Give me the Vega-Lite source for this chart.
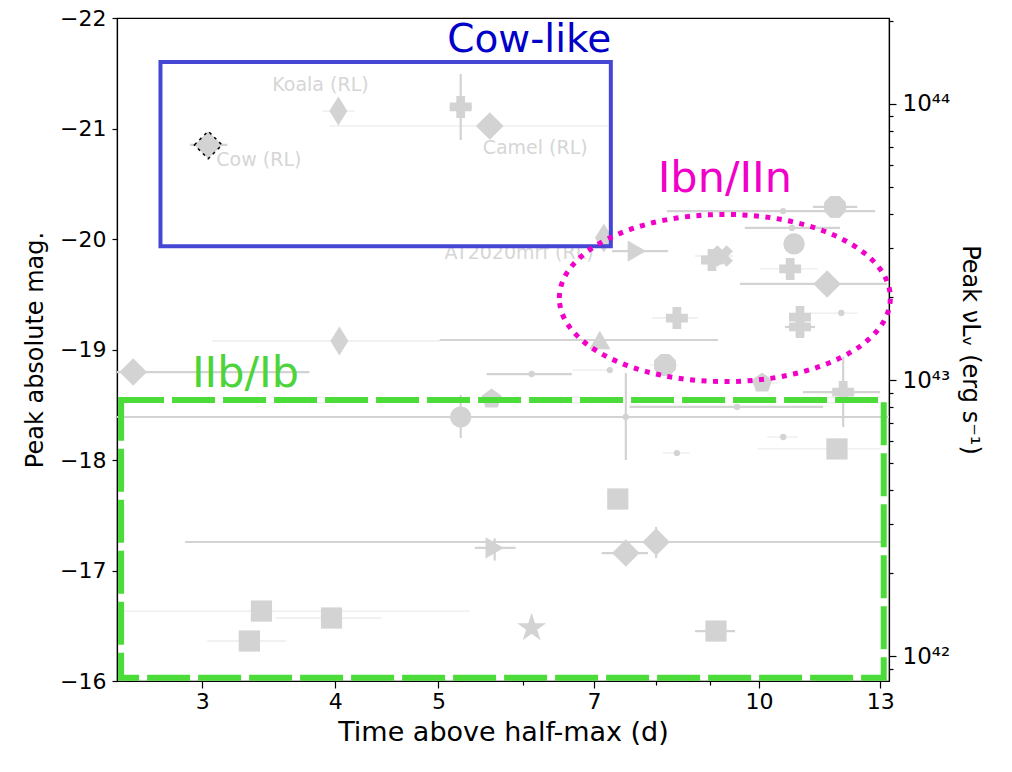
{
  "$schema": "https://vega.github.io/schema/vega-lite/v6.json",
  "width": 772,
  "height": 663,
  "autosize": {"type": "none"},
  "padding": {"left": 117, "top": 18, "right": 123, "bottom": 91},
  "background": "white",
  "datasets": {
    "pts": [
      {"src": "Cow", "m": "D", "x": 3.039, "y": -20.851, "xl": 2.922, "xh": 3.167, "xf": 0},
      {"src": "Koala", "m": "d", "x": 4.027, "y": -21.158, "xl": 3.89, "xh": 4.171, "xf": 1},
      {"m": "P", "x": 5.247, "y": -21.195, "xl": 5.123, "xh": 5.374, "xf": 0, "yl": -21.493, "yh": -20.896},
      {"src": "Camel", "m": "D", "x": 5.587, "y": -21.023, "xl": 3.951, "xh": 7.214, "xf": 1},
      {"src": "AT2020mrf", "m": "d", "x": 7.151, "y": -20.009},
      {"m": ">", "x": 7.681, "y": -19.891, "xl": 7.278, "xh": 8.218, "xf": 0},
      {"m": "P", "x": 9.035, "y": -19.81},
      {"m": "X", "x": 9.234, "y": -19.846, "xl": 8.71, "xh": 9.457, "xf": 1},
      {"m": ".", "x": 10.537, "y": -20.253, "xl": 8.196, "xh": 12.86, "xf": 0},
      {"m": "P", "x": 11.79, "y": -20.29, "xl": 11.24, "xh": 12.37, "xf": 0},
      {"m": "X", "x": 11.79, "y": -20.29},
      {"m": ".", "x": 10.74, "y": -20.1, "xl": 9.7, "xh": 11.92, "xf": 0},
      {"m": "o", "x": 10.79, "y": -19.955},
      {"m": "P", "x": 10.7, "y": -19.729, "xl": 10.03, "xh": 11.36, "xf": 1},
      {"m": "D", "x": 11.59, "y": -19.593, "xl": 9.6, "xh": 13.2, "xf": 0},
      {"m": "P", "x": 8.375, "y": -19.285, "xl": 7.935, "xh": 8.767, "xf": 1},
      {"m": "P", "x": 10.93, "y": -19.294},
      {"m": "P", "x": 10.93, "y": -19.204, "xl": 10.58, "xh": 11.29, "xf": 0},
      {"m": ".", "x": 11.95, "y": -19.33, "xl": 11.16, "xh": 12.37, "xf": 1},
      {"m": "^", "x": 7.089, "y": -19.086, "xl": 5.012, "xh": 9.155, "xf": 0},
      {"m": "P", "x": 8.163, "y": -18.86, "xl": 7.9, "xh": 8.39, "xf": 1},
      {"m": "X", "x": 8.163, "y": -18.86},
      {"m": ".", "x": 7.244, "y": -18.814, "xl": 6.69, "xh": 7.29, "xf": 1},
      {"m": ".", "x": 6.117, "y": -18.778, "xl": 5.551, "xh": 6.672, "xf": 0},
      {"m": "D", "x": 2.584, "y": -18.796, "xl": 2.4, "xh": 3.783, "xf": 0},
      {"m": "d", "x": 4.036, "y": -19.077, "xl": 3.066, "xh": 5.012, "xf": 1},
      {"m": "o", "x": 5.247, "y": -18.389, "xl": 2.4, "xh": 7.499, "xf": 0, "yl": -18.588, "yh": -18.199},
      {"m": ".", "x": 7.499, "y": -18.389, "xl": 7.499, "xh": 13.6, "xf": 0, "yl": -18.787, "yh": -18.0},
      {"m": "p", "x": 5.61, "y": -18.552},
      {"m": "p", "x": 10.07, "y": -18.697, "xl": 9.81, "xh": 10.42, "xf": 1},
      {"m": "P", "x": 12.0, "y": -18.615, "xl": 11.0, "xh": 13.0, "xf": 0, "yl": -18.932, "yh": -18.299},
      {"m": ".", "x": 9.539, "y": -18.48, "xl": 7.56, "xh": 11.49, "xf": 0},
      {"m": ".", "x": 10.54, "y": -18.208, "xl": 10.18, "xh": 10.88, "xf": 1},
      {"m": ".", "x": 8.375, "y": -18.063, "xl": 8.125, "xh": 8.61, "xf": 1},
      {"m": "s", "x": 11.84, "y": -18.1, "xl": 9.98, "xh": 13.0, "xf": 1},
      {"m": "s", "x": 7.37, "y": -17.647},
      {"m": ">", "x": 5.647, "y": -17.204, "xl": 5.41, "xh": 5.91, "xf": 0, "yl": -17.29, "yh": -17.09},
      {"m": "D", "x": 8.007, "y": -17.258, "xl": 2.891, "xh": 13.09, "xf": 0, "yl": -17.394, "yh": -17.113},
      {"m": "D", "x": 7.499, "y": -17.158, "xl": 7.118, "xh": 7.866, "xf": 0},
      {"m": "*", "x": 6.117, "y": -16.48},
      {"m": "s", "x": 9.114, "y": -16.452, "xl": 8.71, "xh": 9.497, "xf": 0},
      {"m": "s", "x": 3.41, "y": -16.633, "xl": 2.533, "xh": 5.35, "xf": 1},
      {"m": "s", "x": 3.322, "y": -16.362, "xl": 3.033, "xh": 3.598, "xf": 1},
      {"m": "s", "x": 3.968, "y": -16.57, "xl": 3.515, "xh": 4.42, "xf": 1}
    ],
    "labels": [
      {"t": "Cow (RL)", "x": 3.093, "y": -20.715},
      {"t": "Koala (RL)", "x": 3.491, "y": -21.394},
      {"t": "Camel (RL)", "x": 5.502, "y": -20.824},
      {"t": "AT2020mrf (RL)", "x": 5.067, "y": -19.873}
    ],
    "ann": [
      {"t": "Cow-like", "g": "cow", "x": 6.085, "y": -21.69},
      {"t": "Ibn/IIn", "g": "ibn", "x": 9.29, "y": -20.425},
      {"t": "IIb/Ib", "g": "iib", "x": 3.294, "y": -18.66}
    ],
    "boxes": [
      {"g": "cow", "x": 2.741, "x2": 7.26, "y": -21.602, "y2": -19.934},
      {"g": "iib", "x": 2.517, "x2": 13.1, "y": -18.543, "y2": -16.03}
    ],
    "ell": [{"g": "ibn", "x": 9.29, "y": -19.466}]
  },
  "layer": [
    {
      "layer": [
        {
          "data": {"name": "pts"},
          "transform": [{"filter": "isValid(datum.xl)"}],
          "mark": {"type": "rule", "clip": true},
          "encoding": {
            "x": {"field": "xl", "type": "quantitative", "title": "Time above half-max (d)", "scale": {"type": "log", "domain": [2.495, 13.25], "nice": false}},
            "x2": {"field": "xh"},
            "y": {"field": "y", "type": "quantitative", "title": "Peak absolute mag.", "scale": {"domain": [-22, -16], "reverse": true, "nice": false, "zero": false}},
            "color": {"condition": {"test": "datum.xf == 1", "value": "#ececec"}, "value": "#d3d3d3"},
            "strokeWidth": {"condition": {"test": "datum.xf == 1", "value": 1.3}, "value": 2.2}
          }
        },
        {
          "data": {"name": "pts"},
          "transform": [{"filter": "isValid(datum.yl)"}],
          "mark": {"type": "rule", "clip": true, "color": "#d3d3d3", "strokeWidth": 2.2},
          "encoding": {
            "x": {"field": "x", "type": "quantitative", "title": "Time above half-max (d)", "scale": {"type": "log", "domain": [2.495, 13.25], "nice": false}},
            "y": {"field": "yl", "type": "quantitative", "title": "Peak absolute mag.", "scale": {"domain": [-22, -16], "reverse": true, "nice": false, "zero": false}},
            "y2": {"field": "yh"}
          }
        },
        {
          "data": {"name": "pts"},
          "mark": {"type": "point", "filled": true, "opacity": 1, "clip": true},
          "encoding": {
            "x": {
              "field": "x", "type": "quantitative", "title": "Time above half-max (d)",
              "scale": {"type": "log", "domain": [2.495, 13.25], "nice": false},
              "axis": {
                "values": [3, 4, 5, 6, 7, 8, 9, 10, 13],
                "labelExpr": "(datum.value == 6 || datum.value == 8 || datum.value == 9) ? '' : ('' + datum.value)",
                "tickSize": {"condition": {"test": "datum.value == 6 || datum.value == 8 || datum.value == 9", "value": 4}, "value": 7},
                "labelPadding": 3,
                "titlePadding": 7,
                "titleFontSize": 27,
                "labelFlush": false,
                "labelOverlap": false
              }
            },
            "y": {
              "field": "y", "type": "quantitative", "title": "Peak absolute mag.",
              "scale": {"domain": [-22, -16], "reverse": true, "nice": false, "zero": false},
              "axis": {
                "values": [-22, -21, -20, -19, -18, -17, -16],
                "format": "d",
                "labelPadding": 6,
                "titlePadding": 12,
                "titleFontSize": 24,
                "labelFlush": false,
                "labelOverlap": false
              }
            },
            "shape": {
              "field": "m", "type": "nominal", "legend": null,
              "scale": {
                "domain": ["D", "d", "s", "o", "P", "X", ">", "^", "p", "*", "."],
                "range": ["diamond", "M-0.62,0L0,-1L0.62,0L0,1Z", "square", "circle", "cross", "cross", "triangle-right", "triangle-up", "M0,-1L0.951,-0.309L0.588,0.809L-0.588,0.809L-0.951,-0.309Z", "M0,-1L0.2245,-0.309L0.951,-0.309L0.363,0.118L0.588,0.809L0,0.382L-0.588,0.809L-0.363,0.118L-0.951,-0.309L-0.2245,-0.309Z", "circle"]
              }
            },
            "size": {
              "field": "m", "type": "nominal", "legend": null,
              "scale": {
                "type": "ordinal",
                "domain": ["D", "d", "s", "o", "P", "X", ">", "^", "p", "*", "."],
                "range": [760, 841, 450, 450, 480, 480, 450, 450, 441, 925, 40]
              }
            },
            "angle": {"condition": {"test": "datum.m == 'X'", "value": 45}, "value": 0},
            "color": {"value": "#d3d3d3"}
          }
        },
        {
          "data": {"name": "pts"},
          "transform": [{"filter": "datum.src == 'Cow'"}],
          "mark": {"type": "point", "shape": "diamond", "size": 760, "filled": false, "opacity": 1, "stroke": "black", "strokeWidth": 1.5, "strokeDash": [3, 4]},
          "encoding": {
            "x": {"field": "x", "type": "quantitative", "title": "Time above half-max (d)", "scale": {"type": "log", "domain": [2.495, 13.25], "nice": false}},
            "y": {"field": "y", "type": "quantitative", "title": "Peak absolute mag.", "scale": {"domain": [-22, -16], "reverse": true, "nice": false, "zero": false}}
          }
        },
        {
          "data": {"name": "labels"},
          "mark": {"type": "text", "align": "left", "baseline": "middle", "font": "DejaVu Sans", "fontSize": 19, "color": "#d6d6d6"},
          "encoding": {
            "x": {"field": "x", "type": "quantitative", "title": "Time above half-max (d)", "scale": {"type": "log", "domain": [2.495, 13.25], "nice": false}},
            "y": {"field": "y", "type": "quantitative", "title": "Peak absolute mag.", "scale": {"domain": [-22, -16], "reverse": true, "nice": false, "zero": false}},
            "text": {"field": "t"}
          }
        },
        {
          "data": {"name": "boxes"},
          "transform": [{"filter": "datum.g == 'cow'"}],
          "mark": {"type": "rect", "filled": false, "stroke": "#4646d4", "strokeWidth": 4},
          "encoding": {
            "x": {"field": "x", "type": "quantitative", "title": "Time above half-max (d)", "scale": {"type": "log", "domain": [2.495, 13.25], "nice": false}},
            "x2": {"field": "x2"},
            "y": {"field": "y", "type": "quantitative", "title": "Peak absolute mag.", "scale": {"domain": [-22, -16], "reverse": true, "nice": false, "zero": false}},
            "y2": {"field": "y2"}
          }
        },
        {
          "data": {"name": "boxes"},
          "transform": [{"filter": "datum.g == 'iib'"}],
          "mark": {"type": "rect", "filled": false, "stroke": "#4cdc3a", "strokeWidth": 6, "strokeDash": [43, 8]},
          "encoding": {
            "x": {"field": "x", "type": "quantitative", "title": "Time above half-max (d)", "scale": {"type": "log", "domain": [2.495, 13.25], "nice": false}},
            "x2": {"field": "x2"},
            "y": {"field": "y", "type": "quantitative", "title": "Peak absolute mag.", "scale": {"domain": [-22, -16], "reverse": true, "nice": false, "zero": false}},
            "y2": {"field": "y2"}
          }
        },
        {
          "data": {"name": "ell"},
          "mark": {"type": "point", "shape": "M-1,0A1,0.505,0,1,1,1,0A1,0.505,0,1,1,-1,0Z", "size": 109561, "filled": false, "opacity": 1, "stroke": "#f000c8", "strokeWidth": 5, "strokeDash": [5, 6.5]},
          "encoding": {
            "x": {"field": "x", "type": "quantitative", "title": "Time above half-max (d)", "scale": {"type": "log", "domain": [2.495, 13.25], "nice": false}},
            "y": {"field": "y", "type": "quantitative", "title": "Peak absolute mag.", "scale": {"domain": [-22, -16], "reverse": true, "nice": false, "zero": false}}
          }
        },
        {
          "data": {"name": "ann"},
          "transform": [{"filter": "datum.g == 'cow'"}],
          "mark": {"type": "text", "align": "center", "baseline": "alphabetic", "font": "DejaVu Sans", "fontSize": 39, "color": "#0000c8"},
          "encoding": {
            "x": {"field": "x", "type": "quantitative", "title": "Time above half-max (d)", "scale": {"type": "log", "domain": [2.495, 13.25], "nice": false}},
            "y": {"field": "y", "type": "quantitative", "title": "Peak absolute mag.", "scale": {"domain": [-22, -16], "reverse": true, "nice": false, "zero": false}},
            "text": {"field": "t"}
          }
        },
        {
          "data": {"name": "ann"},
          "transform": [{"filter": "datum.g != 'cow'"}],
          "mark": {"type": "text", "align": "center", "baseline": "alphabetic", "font": "DejaVu Sans", "fontSize": 43},
          "encoding": {
            "x": {"field": "x", "type": "quantitative", "title": "Time above half-max (d)", "scale": {"type": "log", "domain": [2.495, 13.25], "nice": false}},
            "y": {"field": "y", "type": "quantitative", "title": "Peak absolute mag.", "scale": {"domain": [-22, -16], "reverse": true, "nice": false, "zero": false}},
            "text": {"field": "t"},
            "color": {"field": "g", "type": "nominal", "legend": null, "scale": {"domain": ["ibn", "iib"], "range": ["#f000c8", "#4cd43a"]}}
          }
        }
      ]
    },
    {
      "data": {"values": [{"L": 8.136e41}, {"L": 2.044e44}]},
      "mark": {"type": "point", "opacity": 0},
      "encoding": {
        "y": {
          "field": "L", "type": "quantitative",
          "scale": {"type": "log", "domain": [8.136e41, 2.044e44], "nice": false},
          "axis": {
            "orient": "right",
            "title": "Peak νLᵥ (erg s⁻¹)",
            "values": [9e41, 1e42, 2e42, 3e42, 4e42, 5e42, 6e42, 7e42, 8e42, 9e42, 1e43, 2e43, 3e43, 4e43, 5e43, 6e43, 7e43, 8e43, 9e43, 1e44, 2e44],
            "labelExpr": "datum.value == 1e42 ? '10⁴²' : datum.value == 1e43 ? '10⁴³' : datum.value == 1e44 ? '10⁴⁴' : ''",
            "tickSize": {"condition": {"test": "datum.value == 1e42 || datum.value == 1e43 || datum.value == 1e44", "value": 7}, "value": 4},
            "labelPadding": 6,
            "titlePadding": 8,
            "labelFontSize": 23,
            "titleFontSize": 24,
            "labelFlush": false,
            "labelOverlap": false
          }
        }
      }
    }
  ],
  "resolve": {"scale": {"y": "independent"}},
  "config": {
    "font": "DejaVu Sans",
    "view": {"stroke": "black", "strokeWidth": 1.2},
    "axis": {
      "grid": false,
      "domainColor": "black",
      "domainWidth": 1.2,
      "tickColor": "black",
      "tickWidth": 1.2,
      "labelColor": "black",
      "titleColor": "black",
      "labelFont": "DejaVu Sans",
      "titleFont": "DejaVu Sans",
      "labelFontSize": 22,
      "titleFontSize": 25,
      "titleFontWeight": "normal"
    }
  }
}
